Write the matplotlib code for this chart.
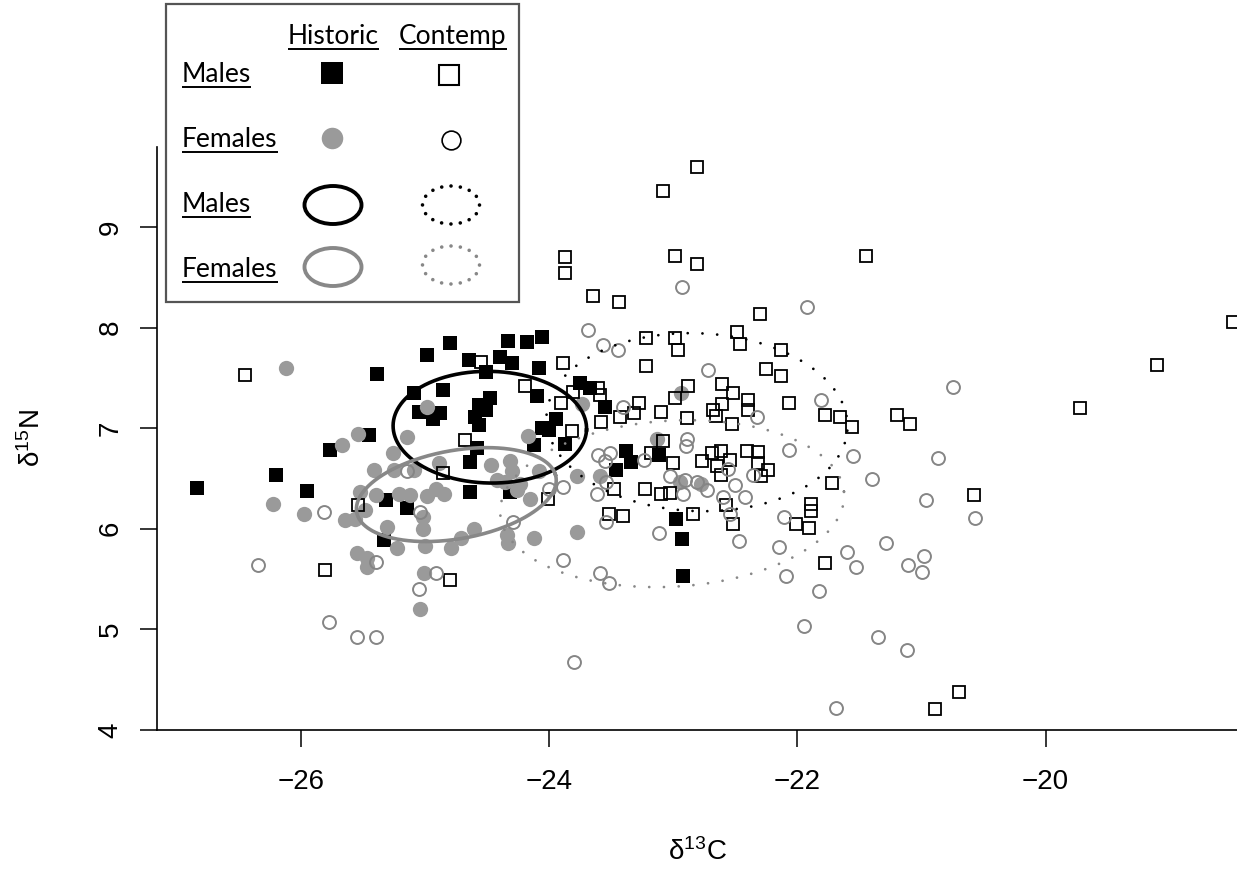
import matplotlib
matplotlib.use('Agg')
import matplotlib.pyplot as plt
import numpy as np
from matplotlib.patches import Rectangle, Ellipse

plt.rcParams['font.family'] = ['Liberation Sans', 'DejaVu Sans']
plt.rcParams['axes.unicode_minus'] = True

# ---------------- data ----------------
# Historic males (filled black squares)
hm_x = [-26.84, -26.20, -25.95, -25.77, -25.45, -25.39, -25.32, -25.15, -25.33, -25.09,
        -24.99, -24.86, -25.05, -24.88, -24.94, -24.80, -24.65, -24.51, -24.40, -24.33,
        -24.30, -24.18, -24.06, -24.08, -24.48, -24.57, -24.51, -24.60, -24.57, -24.10,
        -23.95, -24.06, -24.00, -24.12, -23.87, -23.75, -23.67, -23.55, -24.58, -24.64,
        -24.64, -24.32, -23.38, -23.34, -23.46, -23.12, -22.98, -22.93, -22.92]
hm_y = [6.41, 6.53, 6.38, 6.78, 6.93, 7.54, 6.29, 6.21, 5.89, 7.35,
        7.73, 7.38, 7.16, 7.15, 7.09, 7.85, 7.68, 7.56, 7.71, 7.87,
        7.65, 7.86, 7.91, 7.60, 7.30, 7.23, 7.18, 7.11, 7.03, 7.32,
        7.09, 7.00, 6.98, 6.83, 6.84, 7.45, 7.40, 7.21, 6.80, 6.66,
        6.37, 6.37, 6.77, 6.66, 6.58, 6.73, 6.10, 5.90, 5.53]

# Historic females (filled grey circles)
hf_x = [-26.12, -26.23, -25.98, -25.67, -25.54, -25.15, -24.99, -25.26, -25.41, -25.25,
        -25.09, -24.89, -25.53, -25.40, -25.21, -25.12, -24.99, -24.85, -24.91, -25.49,
        -25.65, -25.57, -25.02, -25.31, -25.02, -25.55, -25.47, -25.47, -25.23, -25.00,
        -24.79, -25.01, -25.04, -24.61, -24.71, -24.34, -24.33, -24.12, -23.78, -24.47,
        -24.32, -24.30, -24.42, -24.08, -24.26, -24.16, -23.78, -24.17, -23.74, -24.36,
        -24.24, -23.59, -22.94, -23.13, -22.95, -22.78]
hf_y = [7.60, 6.25, 6.15, 6.83, 6.94, 6.91, 7.21, 6.75, 6.58, 6.58,
        6.58, 6.65, 6.37, 6.34, 6.35, 6.34, 6.33, 6.35, 6.40, 6.19,
        6.09, 6.10, 6.12, 6.02, 6.00, 5.76, 5.71, 5.62, 5.81, 5.83,
        5.81, 5.56, 5.20, 6.00, 5.91, 5.94, 5.86, 5.91, 5.97, 6.63,
        6.67, 6.57, 6.49, 6.57, 6.39, 6.30, 6.52, 6.92, 7.24, 6.47,
        6.45, 6.52, 7.35, 6.89, 6.47, 6.45]

# Contemporary males (open black squares)
cm_x = [-26.45, -25.54, -25.81, -24.80, -24.86, -24.55, -24.20, -23.89, -23.91, -23.81,
        -23.61, -23.59, -23.58, -23.82, -24.68, -23.43, -23.32, -24.01, -23.48, -23.87,
        -23.87, -22.99, -22.81, -23.65, -23.44, -23.22, -22.99, -22.96, -22.49, -22.46,
        -23.22, -22.88, -22.61, -22.52, -22.99, -23.28, -23.10, -22.89, -22.68, -22.66,
        -22.61, -22.53, -23.08, -23.18, -23.00, -23.23, -23.10, -23.03, -23.52, -23.41,
        -22.84, -22.77, -22.69, -22.62, -22.54, -22.65, -22.62, -22.41, -22.32, -22.58,
        -22.52, -22.13, -22.25, -22.13, -22.40, -22.40, -22.07, -21.78, -21.66, -21.56,
        -21.20, -21.09, -22.32, -22.24, -22.29, -21.72, -21.89, -21.89, -22.01, -21.91,
        -21.78, -20.58, -20.70, -20.89, -19.10, -19.72, -18.49, -22.81, -23.08, -21.45,
        -22.30]
cm_y = [7.53, 6.24, 5.59, 5.49, 6.55, 7.66, 7.42, 7.65, 7.25, 7.36,
        7.40, 7.33, 7.06, 6.97, 6.88, 7.11, 7.15, 6.30, 6.40, 8.70,
        8.54, 8.71, 8.63, 8.31, 8.25, 7.90, 7.90, 7.78, 7.96, 7.84,
        7.62, 7.42, 7.44, 7.35, 7.30, 7.25, 7.16, 7.10, 7.18, 7.12,
        7.24, 7.04, 6.87, 6.75, 6.65, 6.40, 6.35, 6.36, 6.15, 6.13,
        6.15, 6.67, 6.75, 6.77, 6.68, 6.62, 6.53, 6.77, 6.76, 6.24,
        6.05, 7.78, 7.59, 7.52, 7.28, 7.18, 7.25, 7.13, 7.11, 7.01,
        7.13, 7.04, 6.65, 6.58, 6.52, 6.46, 6.25, 6.18, 6.05, 6.01,
        5.66, 6.34, 4.38, 4.21, 7.63, 7.20, 8.06, 9.60, 9.36, 8.71,
        8.14]

# Contemporary females (open grey circles)
cf_x = [-25.15, -25.82, -25.04, -26.35, -25.40, -24.91, -25.05, -25.78, -25.55, -25.40,
        -24.29, -24.00, -23.89, -23.89, -23.69, -23.57, -23.45, -23.41, -23.61, -23.51,
        -23.55, -23.62, -22.93, -22.72, -22.89, -22.90, -23.54, -23.24, -23.03, -22.91,
        -22.81, -22.73, -22.92, -22.60, -22.50, -22.42, -22.36, -22.54, -22.47, -23.12,
        -23.54, -23.59, -23.52, -21.81, -22.33, -22.07, -21.55, -21.40, -22.56, -22.11,
        -22.15, -22.09, -21.83, -21.95, -21.60, -21.53, -21.29, -21.11, -21.00, -20.98,
        -21.35, -21.12, -20.96, -20.75, -20.87, -20.57, -21.92, -21.69, -23.80]
cf_y = [6.57, 6.17, 6.17, 5.64, 5.67, 5.56, 5.40, 5.07, 4.92, 4.92,
        6.07, 6.40, 6.42, 5.69, 7.98, 7.83, 7.78, 7.21, 6.73, 6.75,
        6.67, 6.35, 8.40, 7.58, 6.89, 6.82, 6.47, 6.68, 6.52, 6.49,
        6.47, 6.39, 6.35, 6.32, 6.44, 6.32, 6.53, 6.15, 5.88, 5.96,
        6.07, 5.56, 5.46, 7.28, 7.11, 6.78, 6.72, 6.50, 6.59, 6.12,
        5.82, 5.53, 5.38, 5.03, 5.77, 5.62, 5.86, 5.64, 5.57, 5.73,
        4.92, 4.80, 6.29, 7.41, 6.70, 6.11, 8.20, 4.22, 4.68]

# Standard ellipses: centre x, centre y, semi-axis a, semi-axis b, angle (deg)
ell_hm = (-24.48, 7.01, 0.78, 0.555, -2)
ell_hf = (-24.75, 6.34, 0.823, 0.435, 14)
ell_cm = (-22.81, 7.06, 1.215, 0.883, -4)
ell_cf = (-23.01, 6.25, 1.39, 0.824, 5)

x_ticks = [-26, -24, -22, -20]
y_ticks = [4, 5, 6, 7, 8, 9]

# ---------------- figure ----------------
W, H = 1237, 871
fig = plt.figure(figsize=(W / 100, H / 100), dpi=100)

PXX, PXY = 124.05, 100.6
xl = (-27.163, -18.163)
yl = (4.0, 9.795)
ax = fig.add_axes([157 / W, 141 / H, (xl[1] - xl[0]) * PXX / W, (yl[1] - yl[0]) * PXY / H])
ax.set_xlim(*xl)
ax.set_ylim(*yl)
ax.patch.set_alpha(0)
for s in ['top', 'right']:
    ax.spines[s].set_visible(False)
for s in ['left', 'bottom']:
    ax.spines[s].set_linewidth(1.2)
ax.set_xticks(x_ticks)
ax.set_yticks(y_ticks)
ax.tick_params(axis='both', direction='out', length=12.2, width=1.1, labelsize=20)
ax.tick_params(axis='x', pad=16)
ax.tick_params(axis='y', pad=12, labelrotation=90)
for lab in ax.get_yticklabels():
    lab.set_va('center')

GREY_FILL = '#9a9a9a'
GREY_EDGE = '#858585'

ax.plot(hm_x, hm_y, ls='none', marker='s', ms=10, mfc='black', mec='black', mew=0, zorder=2)
ax.plot(hf_x, hf_y, ls='none', marker='o', ms=11, mfc=GREY_FILL, mec=GREY_FILL, mew=0, zorder=2)
ax.plot(cm_x, cm_y, ls='none', marker='s', ms=9.3, mfc='none', mec='black', mew=1.3, zorder=3)
ax.plot(cf_x, cf_y, ls='none', marker='o', ms=9.3, mfc='none', mec=GREY_EDGE, mew=1.4, zorder=3)


def ellipse_xy(p):
    cx, cy, a, b, ang = p
    t = np.linspace(0, 2 * np.pi, 500)
    th = np.deg2rad(ang)
    x = cx + a * np.cos(t) * np.cos(th) - b * np.sin(t) * np.sin(th)
    y = cy + a * np.cos(t) * np.sin(th) + b * np.sin(t) * np.cos(th)
    return x, y


ax.plot(*ellipse_xy(ell_hm), color='black', lw=2.6, zorder=4)
ax.plot(*ellipse_xy(ell_hf), color='#888888', lw=2.6, zorder=4)
ax.plot(*ellipse_xy(ell_cm), color='black', lw=2.0, linestyle=(0, (0.01, 5.3)),
        dash_capstyle='round', zorder=4)
ax.plot(*ellipse_xy(ell_cf), color='#888888', lw=2.0, linestyle=(0, (0.01, 5.3)),
        dash_capstyle='round', zorder=4)

fig.text(697 / W, 1 - 852 / H, r'$\mathregular{δ^{13}C}$', ha='center', va='center', fontsize=20)
fig.text(32 / W, 1 - 438 / H, r'$\mathregular{δ^{15}N}$', ha='center', va='center',
         rotation=90, fontsize=20)

# ---------------- legend ----------------
lax = fig.add_axes([0, 0, 1, 1], zorder=10)
lax.set_xlim(0, W)
lax.set_ylim(H, 0)
lax.axis('off')
lax.add_patch(Rectangle((166, 4), 353, 298, facecolor='white', edgecolor='#555555', lw=1.6))

LFONT = dict(family=['Lato', 'DejaVu Sans'], fontsize=19, va='baseline')
texts = []
texts.append((lax.text(333, 44, 'Historic', ha='center', **LFONT), 49))
texts.append((lax.text(453, 44, 'Contemp', ha='center', **LFONT), 49))
row_names = ['Males', 'Females', 'Males', 'Females']
row_base = [82, 147, 212, 277]
for name, yb in zip(row_names, row_base):
    texts.append((lax.text(182, yb, name, ha='left', **LFONT), yb + 5))

fig.canvas.draw()
r = fig.canvas.get_renderer()
inv = lax.transData.inverted()
for t, yu in texts:
    bb = t.get_window_extent(r)
    (xa, _), (xb, _) = inv.transform([[bb.x0, bb.y0], [bb.x1, bb.y0]])
    lax.plot([xa, xb], [yu, yu], color='black', lw=1.4, solid_capstyle='butt')

lax.plot([332], [73], marker='s', ms=15.5, mfc='black', mec='black', mew=0, ls='none')
lax.plot([449], [75], marker='s', ms=14, mfc='none', mec='black', mew=1.5, ls='none')
lax.plot([332], [138], marker='o', ms=15.5, mfc=GREY_FILL, mec=GREY_FILL, mew=0, ls='none')
lax.plot([451], [140], marker='o', ms=13.5, mfc='none', mec='black', mew=1.2, ls='none')

lax.add_patch(Ellipse((333, 205), 57, 38, fill=False, ec='black', lw=2.8))
lax.add_patch(Ellipse((451, 205), 57, 38, fill=False, ec='black', lw=2.6,
                      ls=(0, (0.01, 2.6)), capstyle='round'))
lax.add_patch(Ellipse((333, 267), 57, 38, fill=False, ec='#888888', lw=2.8))
lax.add_patch(Ellipse((451, 265), 57, 38, fill=False, ec='#888888', lw=2.6,
                      ls=(0, (0.01, 2.6)), capstyle='round'))

fig.savefig('out.png', dpi=100)
